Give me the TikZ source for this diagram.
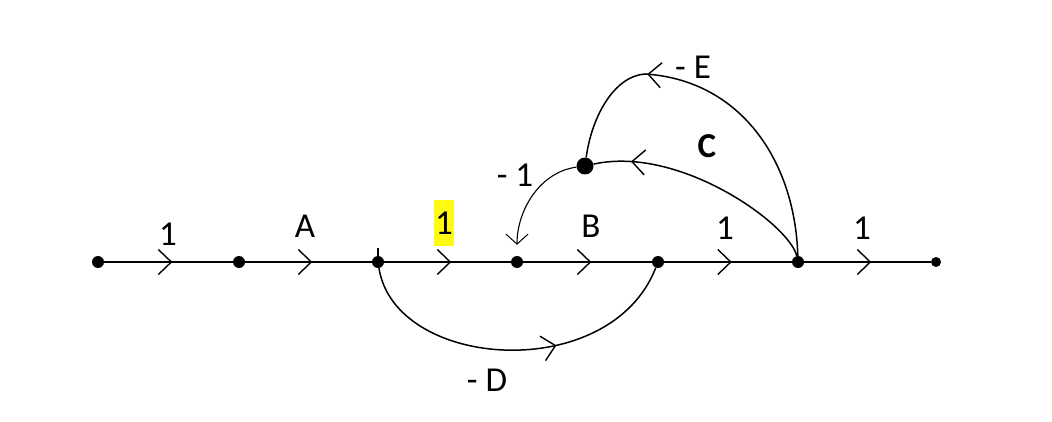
\documentclass[tikz,border=0pt]{standalone}
\usepackage{fontspec}
\setmainfont{Carlito}
\usetikzlibrary{arrows.meta,decorations.markings}
\definecolor{hl}{RGB}{255,250,20}
\tikzset{
  dot/.style={circle,fill=black,inner sep=0pt,minimum size=12pt},
  bigdot/.style={circle,fill=black,inner sep=0pt,minimum size=17pt},
  enddot/.style={circle,fill=black,inner sep=0pt,minimum size=10pt},
  barb/.tip={Straight Barb[length=13pt,width=25pt,line width=1.4pt]},
  smallbarb/.tip={Straight Barb[length=10pt,width=22pt,line width=1pt]},
  gain/.style={font=\fontsize{35}{38}\selectfont},
  branch/.style={line width=1.8pt,postaction={decorate},
    decoration={markings,mark=at position #1 with {\arrow{barb}}}},
  branch/.default=0.53,
  loopedge/.style={line width=1.5pt,postaction={decorate},
    decoration={markings,mark=at position #1 with {\arrow{barb}}}},
}
\begin{document}
\begin{tikzpicture}[x=1pt,y=-1pt]
\useasboundingbox (0,0) rectangle (1052,422);

% nodes of the forward path
\node[dot] (n1) at (98,262) {};
\node[dot] (n2) at (239,262) {};
\node[dot] (n3) at (378,262) {};
\node[dot] (n4) at (517,262) {};
\node[dot] (n5) at (658,262) {};
\node[dot] (n6) at (798,262) {};
\node[enddot] (n7) at (936,262) {};
\node[bigdot] (m) at (585,166) {};

% forward branches
\draw[branch] (n1) -- (n2);
\draw[branch] (n2) -- (n3);
\draw[branch] (n3) -- (n4);
\draw[branch] (n4) -- (n5);
\draw[branch] (n5) -- (n6);
\draw[branch] (n6) -- (n7);
\draw[line width=1.5pt] (n3.center) -- ++(0,-14);

% feedback and feed-forward branches
\draw[loopedge=0.84] (n6) .. controls (790,225) and (680,145) .. (m);
\draw[loopedge=0.70] (n6) .. controls (795,160) and (740,80) .. (645,74)
  .. controls (615,76) and (592,115) .. (m);
\draw[line width=1.1pt,-{smallbarb},shorten >=11pt] (m) .. controls (540,172) and (517,210) .. (n4);
\draw[loopedge=0.62] (n3) .. controls (395,370) and (610,385) .. (n5);

% gains
\node[gain] (g1) at (168,234) {1};
\node[gain] (g2) at (305,226) {A};
\node[gain,fill=hl,minimum width=20pt,minimum height=45pt,inner sep=0pt] (g3) at (444,223) {1};
\node[gain] (g4) at (591,226) {B};
\node[gain] (g5) at (725,228) {1};
\node[gain] (g6) at (862,228) {1};
\node[gain] (g7) at (693,67) {- E};
\node[gain,font=\fontsize{35}{38}\selectfont\bfseries] (g8) at (707,146) {C};
\node[gain] (g9) at (515,175) {- 1};
\node[gain] (g10) at (487,380) {- D};
\end{tikzpicture}
\end{document}
